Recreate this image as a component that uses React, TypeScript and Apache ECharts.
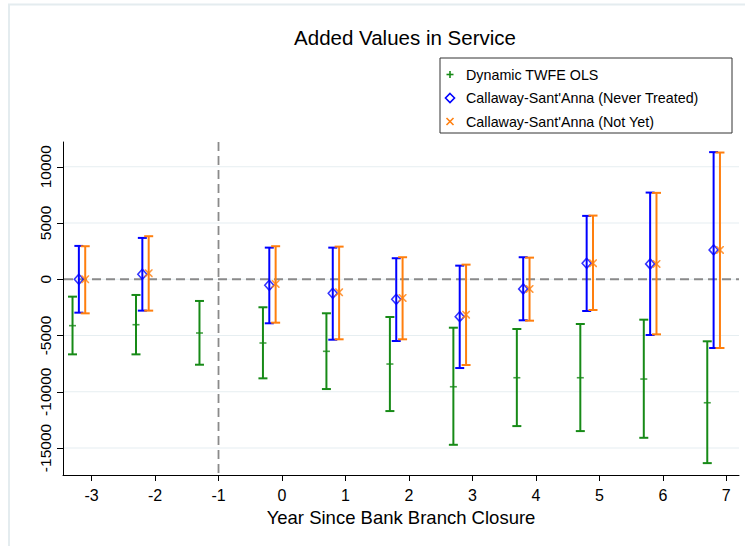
import React, { useEffect, useRef } from 'react';
import * as echarts from 'echarts';

// ---- data ----
const twfeYears = [-3, -2, -1, 0, 1, 2, 3, 4, 5, 6, 7];
const twfeEst = [-4126, -4040, -4778, -5667, -6406, -7536, -9555, -8754, -8754, -8870, -10978];
const twfeLow = [-6676, -6676, -7597, -8808, -9760, -11717, -14715, -13052, -13497, -14093, -16344];
const twfeHigh = [-1547, -1397, -1930, -2491, -3025, -3354, -4306, -4422, -3977, -3593, -5516];

const csYears = [-3, -2, 0, 1, 2, 3, 4, 5, 6, 7];
const neverEst = [0, 445, -534, -1246, -1779, -3327, -863, 1423, 1361, 2607];
const neverLow = [-2970, -2790, -3915, -5374, -5490, -7892, -3648, -2820, -4955, -6112];
const neverHigh = [2963, 3674, 2811, 2811, 1868, 1210, 1957, 5632, 7705, 11299];
const notYetEst = [0, 534, -418, -1157, -1664, -3149, -863, 1423, 1361, 2607];
const notYetLow = [-3030, -2790, -3861, -5338, -5338, -7625, -3683, -2731, -4896, -6112];
const notYetHigh = [2935, 3825, 2935, 2900, 1957, 1299, 1922, 5659, 7678, 11264];

const xTicks = [-3, -2, -1, 0, 1, 2, 3, 4, 5, 6, 7];
const yTicks = [-15000, -10000, -5000, 0, 5000, 10000];
const refX = [-1];
const refY = [0];

const seriesNames = [
  'Dynamic TWFE OLS',
  'Callaway-Sant\'Anna (Never Treated)',
  'Callaway-Sant\'Anna (Not Yet)',
];

const GREEN = '#178a17';
const BLUE = '#0000ff';
const ORANGE = '#ff7f0e';
const FONT = "'Liberation Sans', Arial, Helvetica, sans-serif";

const OFF_TWFE = -0.3;
const OFF_NEVER = -0.2;
const OFF_NOTYET = -0.1;

const X_MIN = -3.45;
const X_MAX = 7.2;
const Y_MIN = -17400;
const Y_MAX = 12200;

function errorBar(color: string) {
  return (params: any, api: any) => {
    const x = api.value(0);
    const lo = api.coord([x, api.value(1)]);
    const hi = api.coord([x, api.value(2)]);
    const half = 4.5;
    const style = { stroke: color, lineWidth: 2, fill: 'none' };
    return {
      type: 'group',
      children: [
        { type: 'line', shape: { x1: lo[0], y1: lo[1], x2: hi[0], y2: hi[1] }, style },
        { type: 'line', shape: { x1: lo[0] - half, y1: lo[1], x2: lo[0] + half, y2: lo[1] }, style },
        { type: 'line', shape: { x1: hi[0] - half, y1: hi[1], x2: hi[0] + half, y2: hi[1] }, style },
      ],
    };
  };
}

const crossPath =
  'path://M0,0 L1.4,0 L5,3.6 L8.6,0 L10,0 L10,1.4 L6.4,5 L10,8.6 L10,10 L8.6,10 L5,6.4 L1.4,10 L0,10 L0,8.6 L3.6,5 L0,1.4 Z';

export default function App() {
  const ref = useRef<HTMLDivElement>(null);
  useEffect(() => {
    if (!ref.current) return;
    const chart = echarts.init(ref.current, null, { renderer: 'svg' });

    const legendX = 440;
    const legendY = 58;
    const rowY = [74.5, 98, 121.5];
    const mx = 450;

    const option: any = {
      animation: false,
      backgroundColor: '#ffffff',
      textStyle: { fontFamily: FONT },
      title: {
        text: 'Added Values in Service',
        left: 400,
        top: 22,
        textAlign: 'center',
        textStyle: { fontSize: 20.5, fontWeight: 'normal', color: '#000', fontFamily: FONT },
      },
      grid: { left: 63, right: 6, top: 142, bottom: 71, containLabel: false },
      xAxis: {
        type: 'value',
        min: X_MIN,
        max: X_MAX,
        name: 'Year Since Bank Branch Closure',
        nameLocation: 'middle',
        nameGap: 30,
        nameTextStyle: { fontSize: 18.5, color: '#000', fontFamily: FONT },
        axisLine: { show: true, onZero: false, lineStyle: { color: '#000', width: 1 } },
        axisTick: { show: true, customValues: xTicks, length: 6, lineStyle: { color: '#000' } },
        axisLabel: { customValues: xTicks, fontSize: 16, color: '#000', margin: 12, fontFamily: FONT, formatter: (v: number) => String(v) },
        splitLine: { show: false },
      },
      yAxis: {
        type: 'value',
        min: Y_MIN,
        max: Y_MAX,
        axisLine: { show: true, onZero: false, lineStyle: { color: '#000', width: 1 } },
        axisTick: { show: true, customValues: yTicks, length: 6, lineStyle: { color: '#000' } },
        axisLabel: { customValues: yTicks, fontSize: 15.5, color: '#000', rotate: 90, margin: 10, fontFamily: FONT, formatter: (v: number) => String(v) },
        splitLine: { show: false },
      },
      graphic: [
        {
          type: 'rect',
          shape: { x: 9, y: 4.5, width: 900, height: 700 },
          style: { fill: 'none', stroke: '#e4ecef', lineWidth: 2 },
          silent: true,
        },
        {
          type: 'group',
          children: [
            {
              type: 'rect',
              shape: { x: legendX, y: legendY, width: 292, height: 75 },
              style: { fill: '#fff', stroke: '#333', lineWidth: 1 },
            },
            // + marker
            { type: 'line', shape: { x1: mx - 3.5, y1: rowY[0], x2: mx + 3.5, y2: rowY[0] }, style: { stroke: GREEN, lineWidth: 1.6 } },
            { type: 'line', shape: { x1: mx, y1: rowY[0] - 3.5, x2: mx, y2: rowY[0] + 3.5 }, style: { stroke: GREEN, lineWidth: 1.6 } },
            // diamond
            {
              type: 'polygon',
              shape: { points: [[mx, rowY[1] - 4.5], [mx + 4.5, rowY[1]], [mx, rowY[1] + 4.5], [mx - 4.5, rowY[1]]] },
              style: { fill: 'none', stroke: BLUE, lineWidth: 1.6 },
            },
            // x marker
            { type: 'line', shape: { x1: mx - 3.5, y1: rowY[2] - 3.5, x2: mx + 3.5, y2: rowY[2] + 3.5 }, style: { stroke: ORANGE, lineWidth: 1.6 } },
            { type: 'line', shape: { x1: mx - 3.5, y1: rowY[2] + 3.5, x2: mx + 3.5, y2: rowY[2] - 3.5 }, style: { stroke: ORANGE, lineWidth: 1.6 } },
            ...seriesNames.map((name, i) => ({
              type: 'text',
              x: 466,
              y: rowY[i],
              style: {
                text: name,
                fill: '#000',
                font: `14.3px ${FONT}`,
                verticalAlign: 'middle',
                textAlign: 'left',
              },
            })),
          ],
        },
      ],
      series: [
        {
          type: 'custom',
          name: 'gridlines',
          silent: true,
          z: 0,
          data: yTicks.map((v) => [v]),
          encode: { y: 0 },
          renderItem: (params: any, api: any) => {
            const cs = params.coordSys;
            const y = api.coord([X_MIN, api.value(0)])[1];
            return {
              type: 'line',
              shape: { x1: cs.x + 1, y1: y, x2: cs.x + cs.width, y2: y },
              style: { stroke: '#e6eef1', lineWidth: 1.2 },
            };
          },
        },
        {
          type: 'custom',
          name: 'zero line',
          silent: true,
          z: 1,
          data: refY.map((v) => [v]),
          encode: { y: 0 },
          renderItem: (params: any, api: any) => {
            const cs = params.coordSys;
            const y = api.coord([X_MIN, api.value(0)])[1];
            return {
              type: 'line',
              shape: { x1: cs.x + 1, y1: y, x2: cs.x + cs.width, y2: y },
              style: { stroke: '#8a8a8a', lineWidth: 1.8, lineDash: [9, 5] },
            };
          },
        },
        {
          type: 'custom',
          name: 'ref x',
          silent: true,
          z: 1,
          data: refX.map((v) => [v]),
          encode: { x: 0 },
          renderItem: (params: any, api: any) => {
            const cs = params.coordSys;
            const x = api.coord([api.value(0), 0])[0];
            return {
              type: 'line',
              shape: { x1: x, y1: cs.y, x2: x, y2: cs.y + cs.height },
              style: { stroke: '#8a8a8a', lineWidth: 1.8, lineDash: [9, 5] },
            };
          },
        },
        {
          type: 'custom',
          name: seriesNames[0] + ' CI',
          z: 2,
          data: twfeYears.map((t, i) => [t + OFF_TWFE, twfeLow[i], twfeHigh[i]]),
          encode: { x: 0, y: [1, 2] },
          renderItem: errorBar(GREEN),
        },
        {
          type: 'custom',
          name: seriesNames[1] + ' CI',
          z: 2,
          data: csYears.map((t, i) => [t + OFF_NEVER, neverLow[i], neverHigh[i]]),
          encode: { x: 0, y: [1, 2] },
          renderItem: errorBar(BLUE),
        },
        {
          type: 'custom',
          name: seriesNames[2] + ' CI',
          z: 2,
          data: csYears.map((t, i) => [t + OFF_NOTYET, notYetLow[i], notYetHigh[i]]),
          encode: { x: 0, y: [1, 2] },
          renderItem: errorBar(ORANGE),
        },
        {
          type: 'scatter',
          name: seriesNames[0],
          z: 3,
          symbol: 'rect',
          symbolSize: [7, 1.6],
          itemStyle: { color: GREEN },
          data: twfeYears.map((t, i) => [t + OFF_TWFE, twfeEst[i]]),
        },
        {
          type: 'scatter',
          name: seriesNames[1],
          z: 3,
          symbol: 'diamond',
          symbolSize: [9, 10],
          itemStyle: { color: 'rgba(255,255,255,0)', borderColor: BLUE, borderWidth: 1.6 },
          data: csYears.map((t, i) => [t + OFF_NEVER, neverEst[i]]),
        },
        {
          type: 'scatter',
          name: seriesNames[2],
          z: 3,
          symbol: crossPath,
          symbolSize: [8, 8],
          itemStyle: { color: ORANGE },
          data: csYears.map((t, i) => [t + OFF_NOTYET, notYetEst[i]]),
        },
      ],
    };
    chart.setOption(option);
    return () => chart.dispose();
  }, []);

  return (
    <div
      ref={ref}
      style={{ position: 'fixed', left: 0, top: 0, width: 745, height: 546, background: '#fff' }}
    />
  );
}
